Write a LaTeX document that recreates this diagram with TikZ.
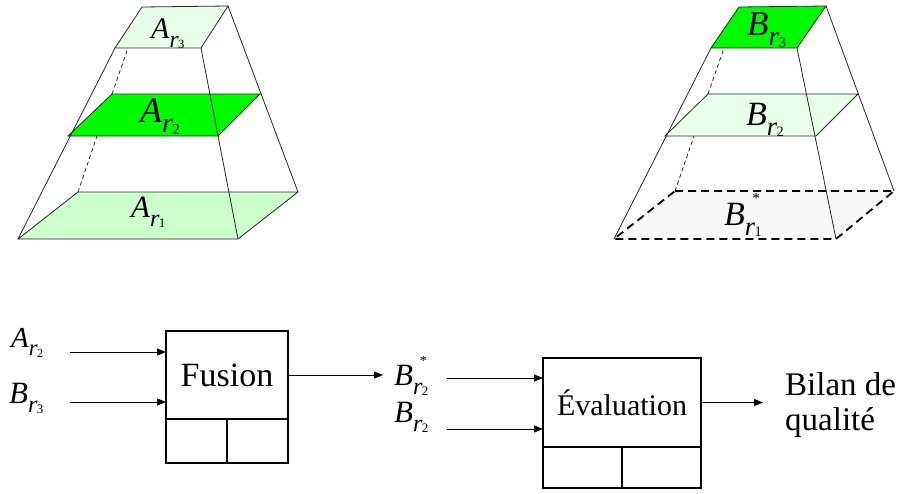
\documentclass[tikz,border=0pt]{standalone}
\usepackage{fontspec}
\setmainfont{Liberation Serif}
\usepackage{graphicx}
\usetikzlibrary{arrows.meta,positioning,calc}
\definecolor{pale}{RGB}{232,255,232}
\definecolor{soft}{RGB}{204,255,204}
\definecolor{vivid}{RGB}{0,250,0}
\definecolor{ghost}{RGB}{247,247,247}
\newcommand{\fs}[1]{\fontsize{#1}{#1}\selectfont}
\newcommand{\rlab}[3][]{{\itshape #2}\makebox[0pt][l]{\kern0.22em\raisebox{0.62em}{\scalebox{0.45}{#1}}}\raisebox{-0.3em}{\scalebox{0.78}{\itshape r}\kern-0.02em\raisebox{-0.05em}{\scalebox{0.42}{#3}}}}

\begin{document}
\begin{tikzpicture}[x=1pt,y=-1pt,
    edge/.style={draw=black!85, line width=0.8pt},
    hidden/.style={edge, dash pattern=on 4pt off 3pt},
    lab/.style={anchor=base west, inner sep=0pt},
    procbox/.style={draw, line width=1.4pt, inner sep=0pt, outer sep=0pt},
    cellbox/.style={draw, line width=1.4pt, inner sep=0pt, outer sep=0pt},
    arr/.style={-{Triangle[length=9pt,width=7pt]}, line width=0.8pt}
  ]
  \useasboundingbox (0,0) rectangle (902,493);

  % pyramide A
  \filldraw[edge, fill=soft] (78,192) -- (298,192) -- (238,239) -- (18,239) -- cycle;
  \filldraw[edge, fill=vivid] (112,94) -- (260,94) -- (218,136) -- (68,136) -- cycle;
  \filldraw[edge, fill=pale] (142,7) -- (228,6) -- (201,48) -- (115,48) -- cycle;
  \draw[edge] (18,239) -- (115,48) (238,239) -- (201,48) (298,192) -- (228,6);
  \draw[hidden] (78,192) -- (97,136) (112,94) -- (128,48);
  \node[lab, font=\fs{30}] (ar3) at (151,38) {\rlab{A}{3}};
  \node[lab, font=\fs{36}] (ar2) at (140,122) {\rlab{A}{2}};
  \node[lab, font=\fs{31}] (ar1) at (131,217) {\rlab{A}{1}};

  % pyramide B
  \filldraw[fill=ghost, draw=black, line width=1.8pt, dash pattern=on 8pt off 5pt] (675,191) -- (894,191) -- (836,239) -- (614,239) -- cycle;
  \filldraw[edge, fill=pale] (708,94) -- (858,94) -- (816,136) -- (665,136) -- cycle;
  \filldraw[edge, fill=vivid] (739,7) -- (826,6) -- (797,48) -- (711,48) -- cycle;
  \draw[edge] (614,239) -- (711,48) (836,239) -- (797,48) (894,191) -- (826,6);
  \draw[hidden] (675,191) -- (694,136) (708,94) -- (724,48);
  \node[lab, font=\fs{35}] (br3) at (747,35) {\rlab{B}{3}};
  \node[lab, font=\fs{34}] (br2) at (746,125) {\rlab{B}{2}};
  \node[lab, font=\fs{34}] (br1) at (724,225) {\rlab[*]{B}{1}};

  % fusion
  \node[procbox, minimum width=122pt, minimum height=88pt, font=\fs{34}] (fus) at (227,375) {Fusion};
  \node[cellbox, minimum width=61pt, minimum height=44pt, below right=0pt of fus.south west] (fusl) {};
  \node[cellbox, minimum width=61pt, minimum height=44pt, right=0pt of fusl] (fusr) {};
  \node[lab, font=\fs{29}] (ia) at (11,347) {\rlab{A}{2}};
  \node[lab, font=\fs{31}] (ib) at (9,403) {\rlab{B}{3}};
  \coordinate (ina) at (70,352);
  \coordinate (inb) at (70,402);
  \draw[arr] (ina) -- (ina -| fus.west);
  \draw[arr] (inb) -- (inb -| fus.west);

  % evaluation
  \node[lab, font=\fs{31}] (os) at (394,385) {\rlab[*]{B}{2}};
  \node[lab, font=\fs{31}] (ob) at (394,422) {\rlab{B}{2}};
  \draw[arr, shorten >=11pt] (fus.east) -- (fus.east -| os.west);
  \node[procbox, minimum width=158pt, minimum height=89pt, font=\fs{30}] (ev) at (622,402.5) {Évaluation};
  \node[cellbox, minimum width=79pt, minimum height=41pt, below right=0pt of ev.south west] (evl) {};
  \node[cellbox, minimum width=79pt, minimum height=41pt, right=0pt of evl] (evr) {};
  \coordinate (inc) at (447,378);
  \coordinate (ind) at (447,429);
  \draw[arr] (inc) -- (inc -| ev.west);
  \draw[arr] (ind) -- (ind -| ev.west);
  \node[anchor=west, align=left, inner sep=0pt, font=\fontsize{33}{35}\selectfont] (bil) at (785,405) {Bilan de\\qualité};
  \draw[arr, shorten >=22pt] (ev.east) -- (ev.east -| bil.west);
\end{tikzpicture}
\end{document}
